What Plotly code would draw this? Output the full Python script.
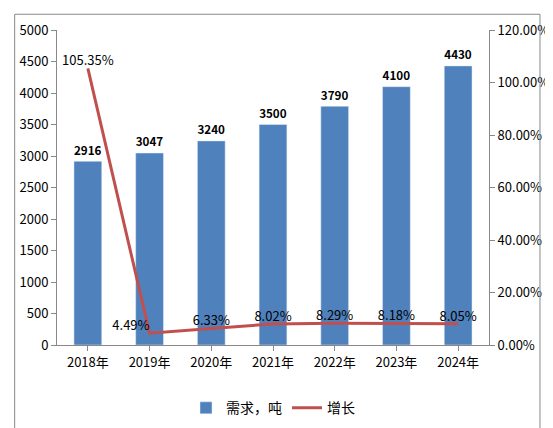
import plotly.graph_objects as go

years = ["2018年", "2019年", "2020年", "2021年", "2022年", "2023年", "2024年"]
demand = [2916, 3047, 3240, 3500, 3790, 4100, 4430]
growth = [105.35, 4.49, 6.33, 8.02, 8.29, 8.18, 8.05]
growth_labels = ["105.35%", "4.49%", "6.33%", "8.02%", "8.29%", "8.18%", "8.05%"]

font = "Noto Sans CJK SC"
fig = go.Figure()
fig.add_trace(go.Bar(x=years, y=demand, name="需求，吨", marker_color="#4f81bd",
                     width=0.45, text=demand, textposition="outside",
                     textfont=dict(size=13, color="#000", weight="bold"), cliponaxis=False))
fig.add_trace(go.Scatter(x=years, y=growth, name="增长", yaxis="y2", mode="lines+text",
                         line=dict(color="#c0504d", width=3),
                         text=growth_labels,
                         textposition=["top center", "top left"] + ["top center"] * 5,
                         textfont=dict(size=13, color="#000"), cliponaxis=False))

fig.update_layout(
    width=553, height=428,
    margin=dict(l=47, r=58, t=18, b=91),
    paper_bgcolor="white", plot_bgcolor="white",
    font=dict(family=font, size=13, color="#000"),
    xaxis=dict(showline=True, linecolor="#888", ticks="outside", tickcolor="#888"),
    yaxis=dict(range=[0, 5000], dtick=500, showgrid=False, showline=True,
               linecolor="#888", ticks="outside", tickcolor="#888"),
    yaxis2=dict(range=[0, 120], dtick=20, overlaying="y", side="right", showgrid=False,
                showline=True, linecolor="#888", ticks="outside", tickcolor="#888",
                ticksuffix=".00%"),
    legend=dict(orientation="h", x=0.5, xanchor="center", y=-0.15, yanchor="top",
                font=dict(size=14)),
    shapes=[dict(type="rect", xref="paper", yref="paper", x0=-0.098, x1=1.118, y0=-0.272, y1=1.05,
                 line=dict(color="#888", width=1))],
)
fig.write_html("out.html")
